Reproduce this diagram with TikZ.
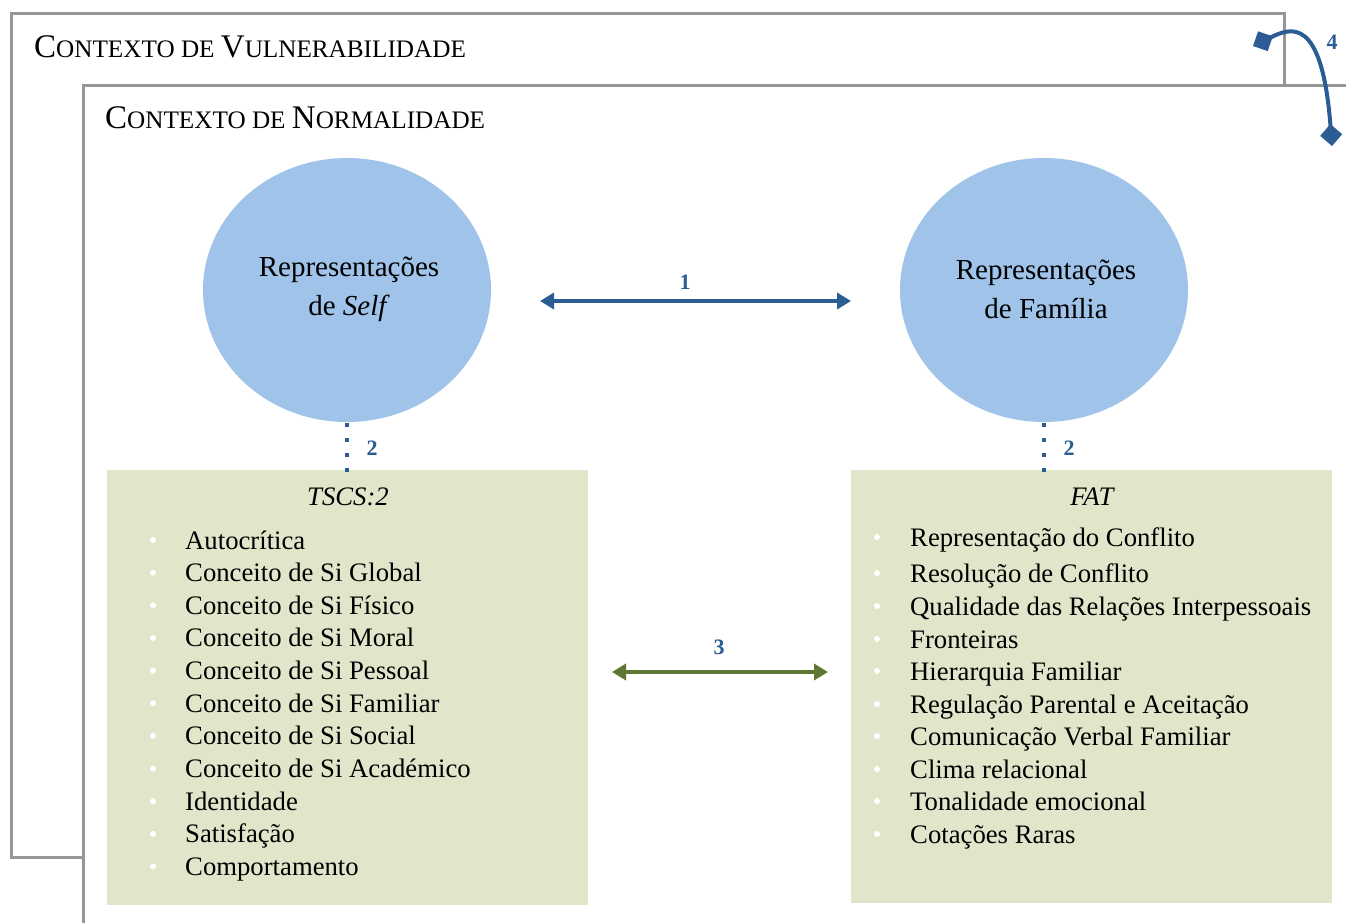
\documentclass[tikz,border=0pt]{standalone}
\usepackage{fontspec}
\setmainfont{Liberation Serif}
\usetikzlibrary{arrows.meta}
\definecolor{framegray}{HTML}{969696}
\definecolor{ellblue}{HTML}{9FC3E9}
\definecolor{boxgreen}{HTML}{DFE6C9}
\definecolor{arrblue}{HTML}{2B5D94}
\definecolor{arrgreen}{HTML}{5E7737}
\tikzset{
  frame/.style={draw=framegray, line width=3pt},
  gbox/.style={fill=boxgreen, draw=none},
  item/.style={anchor=base west, inner sep=0pt, font=\fontsize{26.7}{30}\selectfont},
  bul/.style={circle, fill=white, inner sep=0pt, minimum size=6pt},
  num/.style={text=arrblue, font=\fontsize{22}{24}\selectfont\bfseries, inner sep=0pt},
  biarrow/.style={line width=4pt, {Triangle[length=14pt,width=16pt]}-{Triangle[length=14pt,width=16pt]}},
  ttl/.style={anchor=base west, inner sep=0pt},
  ctext/.style={inner sep=0pt, align=center, font=\fontsize{29}{39}\selectfont},
}
\newcommand{\bigc}[1]{{\fontsize{33}{34}\selectfont #1}}
\newcommand{\smc}[1]{{\fontsize{25.2}{26}\selectfont #1}}
\begin{document}
\begin{tikzpicture}[x=1pt,y=-1pt]
\useasboundingbox (0,0) rectangle (1346,922);
% frames
\draw[frame, fill=white] (11,13) rectangle (1284,857);
\node[ttl] (tv) at (34,57) {\bigc{C}\smc{ONTEXTO DE }\bigc{V}\smc{ULNERABILIDADE}};
\draw[frame, fill=white] (83,85) rectangle (1370,960);
\node[ttl] (tn) at (105,128) {\bigc{C}\smc{ONTEXTO DE }\bigc{N}\smc{ORMALIDADE}};
% ellipses
\fill[ellblue] (347,290) ellipse [x radius=144, y radius=132];
\node[ctext] (self) at (349,289) {Representações\\de \textit{Self}};
\fill[ellblue] (1044,290) ellipse [x radius=144, y radius=132];
\node[ctext] (fam) at (1046,289) {Representações\\de Família};
% green boxes
\fill[gbox] (107,470) rectangle (588,905);
\fill[gbox] (851,470) rectangle (1332,903);
% dotted connectors
\coordinate (s1) at (347,423);
\coordinate (s2) at (347,472);
\coordinate (f1) at (1044,423);
\coordinate (f2) at (1044,472);
\draw[arrblue, line width=4pt, dash pattern=on 4pt off 11pt] (s1) -- (s2);
\draw[arrblue, line width=4pt, dash pattern=on 4pt off 11pt] (f1) -- (f2);
\node[num] (n2a) at (372,448) {2};
\node[num] (n2b) at (1069,448) {2};
% arrow 1
\coordinate (a1l) at (540,301);
\coordinate (a1r) at (851,301);
\draw[biarrow, arrblue] (a1l) -- (a1r);
\node[num] (n1) at (685,282) {1};
% arrow 3
\coordinate (a3l) at (612,672);
\coordinate (a3r) at (828,672);
\draw[biarrow, arrgreen] (a3l) -- (a3r);
\node[num] (n3) at (719,647) {3};
% arrow 4
\coordinate (a4s) at (1253,46);
\coordinate (a4e) at (1332,146);
\draw[arrblue, line width=4pt, {Diamond[length=22pt,width=22pt]}-{Diamond[length=22pt,width=22pt]}] (a4s) .. controls (1290,28) and (1322,14) .. (a4e);
\node[num] (n4) at (1332,42) {4};
% TSCS list
\node[inner sep=0pt, font=\fontsize{26.7}{30}\selectfont\itshape] (tscs) at (348,497) {TSCS:2};
\foreach \t [count=\i] in {Autocrítica,Conceito de Si Global,Conceito de Si Físico,Conceito de Si Moral,Conceito de Si Pessoal,Conceito de Si Familiar,Conceito de Si Social,Conceito de Si Académico,Identidade,Satisfação,Comportamento}{
  \pgfmathsetmacro{\yy}{541+(\i-1)*32.65}
  \node[bul] (lb\i) at (153,\yy-1) {};
  \node[item] (lt\i) at (185,\yy+8) {\t};
}
% FAT list
\node[inner sep=0pt, font=\fontsize{26.7}{30}\selectfont\itshape] (fat) at (1092,497) {FAT};
\foreach \t/\yy [count=\i] in {Representação do Conflito/538,Resolução de Conflito/574,Qualidade das Relações Interpessoais/607,Fronteiras/640,Hierarquia Familiar/672,Regulação Parental e Aceitação/705,Comunicação Verbal Familiar/737,Clima relacional/770,Tonalidade emocional/802,Cotações Raras/835}{
  \node[bul] (rb\i) at (877,\yy-1) {};
  \node[item] (rt\i) at (910,\yy+8) {\t};
}
\end{tikzpicture}
\end{document}
